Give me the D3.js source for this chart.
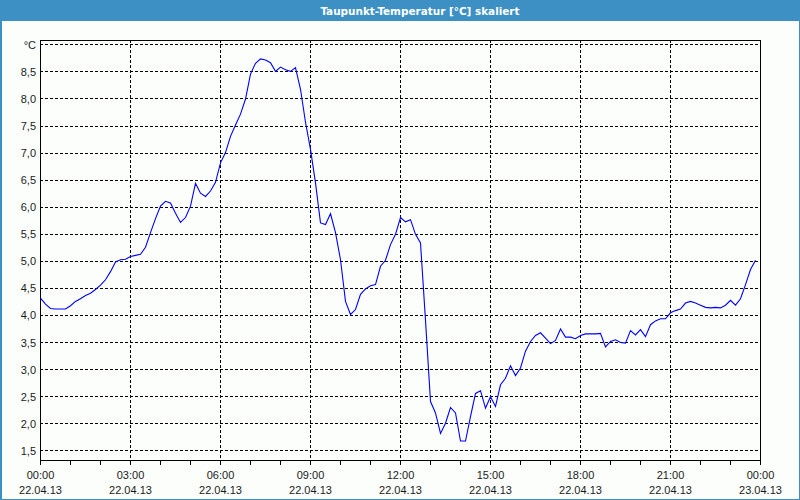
<!DOCTYPE html>
<html>
<head>
<meta charset="utf-8">
<script src="https://cdn.jsdelivr.net/npm/d3@7"></script>
<style>
  html, body { margin: 0; padding: 0; background: #fcfefc; }
  svg { display: block; }
</style>
</head>
<body>
<svg id="chart" width="800" height="500"></svg>
<script>
// ---- data ----
const title = "Taupunkt-Temperatur [°C] skaliert";
const startHour = 0;          // 22.04.13 00:00
const intervalMinutes = 10;   // sample spacing
const dewPoint = [
  4.31, 4.20, 4.12, 4.11, 4.11, 4.11, 4.17, 4.25, 4.30, 4.36, 4.40, 4.47,
  4.55, 4.65, 4.80, 4.98, 5.02, 5.03, 5.08, 5.10, 5.12, 5.25, 5.52, 5.78,
  6.01, 6.10, 6.07, 5.88, 5.71, 5.80, 6.01, 6.43, 6.25, 6.19, 6.29, 6.45,
  6.81, 7.00, 7.30, 7.51, 7.71, 7.99, 8.45, 8.65, 8.73, 8.71, 8.66, 8.50,
  8.58, 8.53, 8.50, 8.57, 8.17, 7.56, 7.06, 6.44, 5.70, 5.67, 5.87, 5.52,
  5.02, 4.25, 4.01, 4.10, 4.38, 4.48, 4.54, 4.56, 4.90, 5.01, 5.30, 5.49,
  5.80, 5.72, 5.76, 5.49, 5.33, 3.90, 2.40, 2.19, 1.81, 2.00, 2.29, 2.19,
  1.67, 1.67, 2.12, 2.55, 2.60, 2.28, 2.49, 2.31, 2.71, 2.83, 3.06, 2.88,
  3.02, 3.33, 3.51, 3.62, 3.67, 3.57, 3.47, 3.53, 3.74, 3.59, 3.59, 3.56,
  3.62, 3.65, 3.65, 3.65, 3.66, 3.41, 3.51, 3.54, 3.49, 3.48, 3.71, 3.63,
  3.73, 3.60, 3.82, 3.89, 3.93, 3.93, 4.04, 4.08, 4.11, 4.22, 4.25, 4.22,
  4.18, 4.14, 4.13, 4.14, 4.13, 4.18, 4.27, 4.18, 4.30, 4.56, 4.84, 5.01
];
const yTicks = [1.5, 2.0, 2.5, 3.0, 3.5, 4.0, 4.5, 5.0, 5.5, 6.0, 6.5, 7.0, 7.5, 8.0, 8.5, 9.0];
const yTickLabels = ["1,5","2,0","2,5","3,0","3,5","4,0","4,5","5,0","5,5","6,0","6,5","7,0","7,5","8,0","8,5","°C"];
const xTicks = [0, 3, 6, 9, 12, 15, 18, 21, 24];
const xTimeLabels = ["00:00","03:00","06:00","09:00","12:00","15:00","18:00","21:00","00:00"];
const xDateLabels = ["22.04.13","22.04.13","22.04.13","22.04.13","22.04.13","22.04.13","22.04.13","22.04.13","23.04.13"];
const xMinorTicks = d3.range(0, 25, 1);

// ---- layout ----
const W = 800, H = 500;
const L = 40, R = 760, T = 40, B = 460;
const svg = d3.select("#chart");
const x = d3.scaleLinear().domain([0, 24]).range([L, R]);
const y = d3.scaleLinear().domain([1.32, 9.08]).range([B, T]);
const px = v => Math.round(v) + 0.5;

// background
svg.append("rect").attr("x", 0).attr("y", 0).attr("width", W).attr("height", H).attr("fill", "#fcfefc");
// title bar
svg.append("rect").attr("x", 0).attr("y", 0).attr("width", W).attr("height", 21).attr("fill", "#3c90c4");
svg.append("text").attr("x", 420).attr("y", 15).attr("text-anchor", "middle")
  .attr("font-family", "'DejaVu Sans Condensed', 'Liberation Sans', sans-serif")
  .attr("font-weight", "bold").attr("font-size", 11).attr("fill", "#ffffff")
  .attr("textLength", 199).attr("lengthAdjust", "spacingAndGlyphs")
  .text(title);
// window border
svg.append("rect").attr("x", 0.5).attr("y", 0.5).attr("width", W - 1).attr("height", H - 1)
  .attr("fill", "none").attr("stroke", "#3c90c4").attr("stroke-width", 1);
svg.append("line").attr("x1", 1.5).attr("x2", 1.5).attr("y1", 21).attr("y2", H)
  .attr("stroke", "#3c90c4");

// grid
const grid = svg.append("g").attr("stroke", "#000").attr("stroke-width", 1)
  .attr("stroke-dasharray", "3,2").attr("shape-rendering", "crispEdges");
grid.selectAll("line.h").data(yTicks).join("line").attr("class", "h")
  .attr("x1", L).attr("x2", R).attr("y1", d => px(y(d))).attr("y2", d => px(y(d)));
grid.selectAll("line.v").data(xTicks.slice(1, -1)).join("line").attr("class", "v")
  .attr("y1", T).attr("y2", B).attr("x1", d => px(x(d))).attr("x2", d => px(x(d)));

// frame
svg.append("rect").attr("x", px(L)).attr("y", px(T)).attr("width", R - L).attr("height", B - T)
  .attr("fill", "none").attr("stroke", "#000").attr("shape-rendering", "crispEdges");

// minor ticks on x axis
svg.append("g").attr("stroke", "#000").attr("shape-rendering", "crispEdges")
  .selectAll("line").data(xMinorTicks).join("line")
  .attr("x1", d => px(x(d))).attr("x2", d => px(x(d)))
  .attr("y1", B).attr("y2", B + 5);

// y labels
const font = "'Liberation Sans', Arial, sans-serif";
svg.append("g").attr("font-family", font).attr("font-size", 11).attr("fill", "#1a1a1a")
  .attr("text-anchor", "end")
  .selectAll("text").data(yTicks).join("text")
  .attr("x", 36).attr("y", d => y(d) + 4.5)
  .text((d, i) => yTickLabels[i]);

// x labels
const xl = svg.append("g").attr("font-family", font).attr("font-size", 11).attr("fill", "#1a1a1a")
  .attr("text-anchor", "middle");
xl.selectAll("text.t").data(xTicks).join("text").attr("class", "t")
  .attr("x", d => x(d) + 0.5).attr("y", 479).text((d, i) => xTimeLabels[i]);
xl.selectAll("text.d").data(xTicks).join("text").attr("class", "d")
  .attr("x", d => x(d) + 0.5).attr("y", 494).text((d, i) => xDateLabels[i]);

// line
const line = d3.line()
  .x((d, i) => x(startHour + i * intervalMinutes / 60) + 0.5)
  .y(d => y(d));
svg.append("path").datum(dewPoint).attr("d", line)
  .attr("fill", "none").attr("stroke", "#0000ff").attr("stroke-width", 1.1);
</script>
</body>
</html>
